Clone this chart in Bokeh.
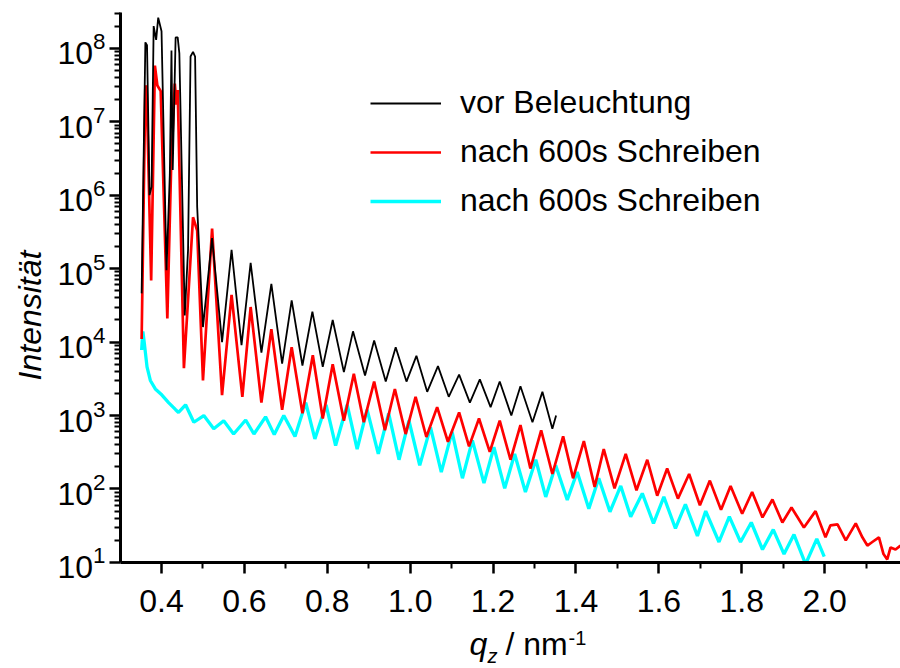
from bokeh.plotting import figure
from bokeh.models import (FixedTicker, Legend, LegendItem, Label, Range1d,
                          PrintfTickFormatter, LogTickFormatter)
from bokeh.layouts import row, column
from bokeh.embed import file_html
from bokeh.resources import INLINE
import math

# ---- data (q_z in nm^-1, intensity) ----
black_q = [0.352, 0.361, 0.365, 0.371, 0.376, 0.381, 0.387, 0.392, 0.400, 0.412,
           0.420, 0.424, 0.427, 0.434, 0.439, 0.443, 0.456, 0.464, 0.470, 0.476,
           0.481, 0.486, 0.500, 0.522, 0.546, 0.569, 0.593, 0.615, 0.641, 0.665,
           0.691, 0.714, 0.740, 0.764, 0.789, 0.813, 0.840, 0.862, 0.891, 0.913,
           0.941, 0.965, 0.991, 1.015, 1.041, 1.067, 1.093, 1.118, 1.144, 1.168,
           1.194, 1.216, 1.244, 1.266, 1.295, 1.319, 1.343, 1.352]
black_i = [4.6e4, 1.2e8, 1.1e8, 1.0e6, 1.3e6, 2.0e8, 1.3e8, 2.6e8, 1.7e8, 9.5e4,
           1.9e6, 9.3e7, 2.2e6, 1.4e8, 1.4e8, 8.5e7, 2.3e4, 1.8e5, 7.7e7, 8.9e7,
           7.7e7, 6.9e5, 1.6e4, 2.6e5, 1.0e4, 1.8e5, 9.1e3, 1.2e5, 7.2e3, 6.2e4,
           5.1e3, 3.7e4, 4.8e3, 2.6e4, 4.6e3, 2.0e4, 3.9e3, 1.4e4, 3.5e3, 1.05e4,
           2.9e3, 8.5e3, 2.9e3, 6.5e3, 2.1e3, 4.7e3, 1.8e3, 3.6e3, 1.5e3, 3.1e3,
           1.3e3, 2.9e3, 1.0e3, 2.5e3, 8.1e2, 2.1e3, 6.6e2, 1.0e3]

red_q = [0.352, 0.361, 0.364, 0.375, 0.384, 0.390, 0.398, 0.414, 0.423, 0.432,
         0.436, 0.439, 0.454, 0.476, 0.486, 0.500, 0.522, 0.546, 0.569, 0.595,
         0.615, 0.641, 0.665, 0.691, 0.714, 0.740, 0.765, 0.789, 0.813, 0.840,
         0.864, 0.888, 0.913, 0.939, 0.963, 0.989, 1.013, 1.039, 1.065, 1.091,
         1.118, 1.142, 1.166, 1.192, 1.216, 1.242, 1.266, 1.290, 1.316, 1.343,
         1.369, 1.393, 1.419, 1.445, 1.467, 1.493, 1.520, 1.546, 1.572, 1.596,
         1.620, 1.646, 1.673, 1.699, 1.723, 1.750, 1.773, 1.801, 1.825, 1.850,
         1.874, 1.898, 1.920, 1.950, 1.978, 2.002, 2.014, 2.031, 2.051, 2.075,
         2.091, 2.103, 2.115, 2.131, 2.142, 2.151, 2.159, 2.171, 2.183]
red_i = [1.1e4, 3.1e7, 2.8e7, 6.9e4, 5.8e7, 3.1e7, 2.6e7, 2.1e4, 2.2e6, 3.3e7,
         1.7e7, 2.7e7, 4.4e3, 5.0e5, 3.3e5, 3.0e3, 3.5e5, 1.9e3, 4.4e4, 1.8e3,
         3.0e4, 1.5e3, 1.5e4, 1.2e3, 8.5e3, 1.07e3, 6.6e3, 9.1e2, 5.0e3, 8.5e2,
         3.7e3, 8.1e2, 2.9e3, 6.3e2, 2.3e3, 5.6e2, 1.8e3, 5.1e2, 1.3e3, 4.4e2,
         1.1e3, 3.8e2, 9.1e2, 3.2e2, 8.5e2, 2.5e2, 7.4e2, 1.9e2, 6.3e2, 1.6e2,
         5.2e2, 1.4e2, 4.5e2, 107, 3.5e2, 102, 3.0e2, 96, 2.5e2, 81,
         1.9e2, 74, 1.6e2, 60, 1.3e2, 52, 1.1e2, 46, 91, 41,
         72, 35, 56, 30, 50, 22, 32, 33, 20, 34,
         22, 17, 19, 22, 13, 11, 16, 15, 17]

cyan_q = [0.352, 0.355, 0.359, 0.365, 0.373, 0.385, 0.401, 0.417, 0.434, 0.441,
          0.458, 0.478, 0.502, 0.526, 0.550, 0.574, 0.603, 0.623, 0.651, 0.672,
          0.695, 0.722, 0.748, 0.770, 0.797, 0.820, 0.848, 0.872, 0.896, 0.923,
          0.948, 0.973, 0.997, 1.023, 1.049, 1.075, 1.101, 1.126, 1.150, 1.178,
          1.202, 1.228, 1.252, 1.278, 1.303, 1.327, 1.351, 1.379, 1.403, 1.431,
          1.455, 1.482, 1.508, 1.532, 1.560, 1.587, 1.612, 1.640, 1.664, 1.693,
          1.713, 1.745, 1.770, 1.797, 1.823, 1.850, 1.876, 1.902, 1.926, 1.954,
          1.981, 1.999]
cyan_i = [7.8e3, 1.4e4, 9.1e3, 4.6e3, 3.0e3, 2.3e3, 1.9e3, 1.5e3, 1.2e3, 1.1e3,
          1.4e3, 8.1e2, 1.0e3, 6.6e2, 8.5e2, 5.6e2, 8.7e2, 5.6e2, 9.6e2, 5.5e2,
          1.0e3, 5.2e2, 1.5e3, 4.8e2, 1.4e3, 3.9e2, 1.4e3, 3.5e2, 1.2e3, 3.0e2,
          1.07e3, 2.5e2, 8.5e2, 2.1e2, 6.9e2, 1.7e2, 6.0e2, 1.4e2, 4.6e2, 1.2e2,
          3.7e2, 102, 3.0e2, 91, 2.5e2, 78, 2.1e2, 71, 1.7e2, 54,
          1.4e2, 49, 1.1e2, 42, 87, 34, 78, 29, 62, 23,
          50, 19, 42, 19, 35, 15, 28, 13, 24, 9.5,
          21, 12]

legend_labels = ["vor Beleuchtung", "nach 600s Schreiben", "nach 600s Schreiben"]
x_major = [0.4, 0.6, 0.8, 1.0, 1.2, 1.4, 1.6, 1.8, 2.0]
x_minor = [0.3, 0.5, 0.7, 0.9, 1.1, 1.3, 1.5, 1.7, 1.9, 2.1]
y_major = [1e1, 1e2, 1e3, 1e4, 1e5, 1e6, 1e7, 1e8]

FONT = "Liberation Sans"
FS = "32px"

# ---------------- main plot ----------------
p = figure(width=850, height=625, y_axis_type="log",
           x_range=Range1d(0.301, 2.183), y_range=Range1d(9.99, 3.06e8),
           output_backend="svg", toolbar_location=None,
           min_border_left=70, min_border_right=0,
           min_border_top=12, min_border_bottom=63)
p.outline_line_color = None
p.xgrid.visible = False
p.ygrid.visible = False

rc = p.line(cyan_q, cyan_i, line_color="#00FFFF", line_width=3.3)
rr = p.line(red_q, red_i, line_color="#FF0000", line_width=2.7)
rb = p.line(black_q, black_i, line_color="#000000", line_width=1.8)

xa = p.xaxis[0]
xa.ticker = FixedTicker(ticks=x_major, minor_ticks=x_minor)
xa.formatter = PrintfTickFormatter(format="%.1f")
ya = p.yaxis[0]
y_minor = [m * t for t in y_major for m in range(2, 10)]
ya.ticker = FixedTicker(ticks=y_major, minor_ticks=y_minor)
ya.formatter = LogTickFormatter()
for ax in (xa, ya):
    ax.axis_line_width = 3
    ax.axis_line_color = "black"
    ax.major_tick_line_width = 2.5
    ax.minor_tick_line_width = 2
    ax.major_tick_out = 11
    ax.major_tick_in = 0
    ax.minor_tick_out = 6
    ax.minor_tick_in = 0
    ax.major_label_text_font = FONT
    ax.major_label_text_font_size = FS
    ax.major_label_text_color = "black"
xa.major_label_standoff = 16
ya.major_label_standoff = 4

legend = Legend(items=[LegendItem(label=legend_labels[0], renderers=[rb]),
                       LegendItem(label=legend_labels[1], renderers=[rr]),
                       LegendItem(label=legend_labels[2], renderers=[rc])],
                location=(250, 343), glyph_width=71, glyph_height=36,
                label_height=36, label_standoff=19, spacing=12, padding=0,
                margin=0, border_line_color=None, background_fill_alpha=0,
                label_text_font=FONT, label_text_font_size=FS,
                label_text_color="black", label_text_baseline="middle")
p.add_layout(legend)

# ---------------- left strip: y-axis title ----------------
left = figure(width=50, height=668, x_range=Range1d(0, 50), y_range=Range1d(668, 0),
              output_backend="svg", toolbar_location=None,
              x_axis_location=None, y_axis_location=None, min_border=0)
left.outline_line_color = None
left.grid.visible = False
left.add_layout(Label(x=29, y=315, text="Intensität", text_font=FONT,
                      text_font_size=FS, text_font_style="italic", text_color="black",
                      angle=math.pi / 2, text_align="center", text_baseline="middle"))

# ---------------- bottom strip: x-axis title ----------------
# (its frame is aligned with the main plot's frame: page x 120..900, y 625..668)
bottom = figure(width=850, height=43, x_range=Range1d(120, 900), y_range=Range1d(668, 625),
                output_backend="svg", toolbar_location=None,
                x_axis_location=None, y_axis_location=None, min_border=0)
bottom.outline_line_color = None
bottom.grid.visible = False

def lab(fig, x, y, text, size=FS, style="normal"):
    fig.add_layout(Label(x=x, y=y, text=text, text_font=FONT, text_font_size=size,
                         text_font_style=style, text_align="left",
                         text_baseline="middle", text_color="black"))

lab(bottom, 469, 643.5, "q", style="italic")
lab(bottom, 487, 655, "z", size="20px", style="italic")
lab(bottom, 505, 643.5, "/ nm")
lab(bottom, 568, 637, "-1", size="20px")

layout = row(left, column(p, bottom, spacing=0), spacing=0)
open("out.html", "w").write(file_html(layout, INLINE))
